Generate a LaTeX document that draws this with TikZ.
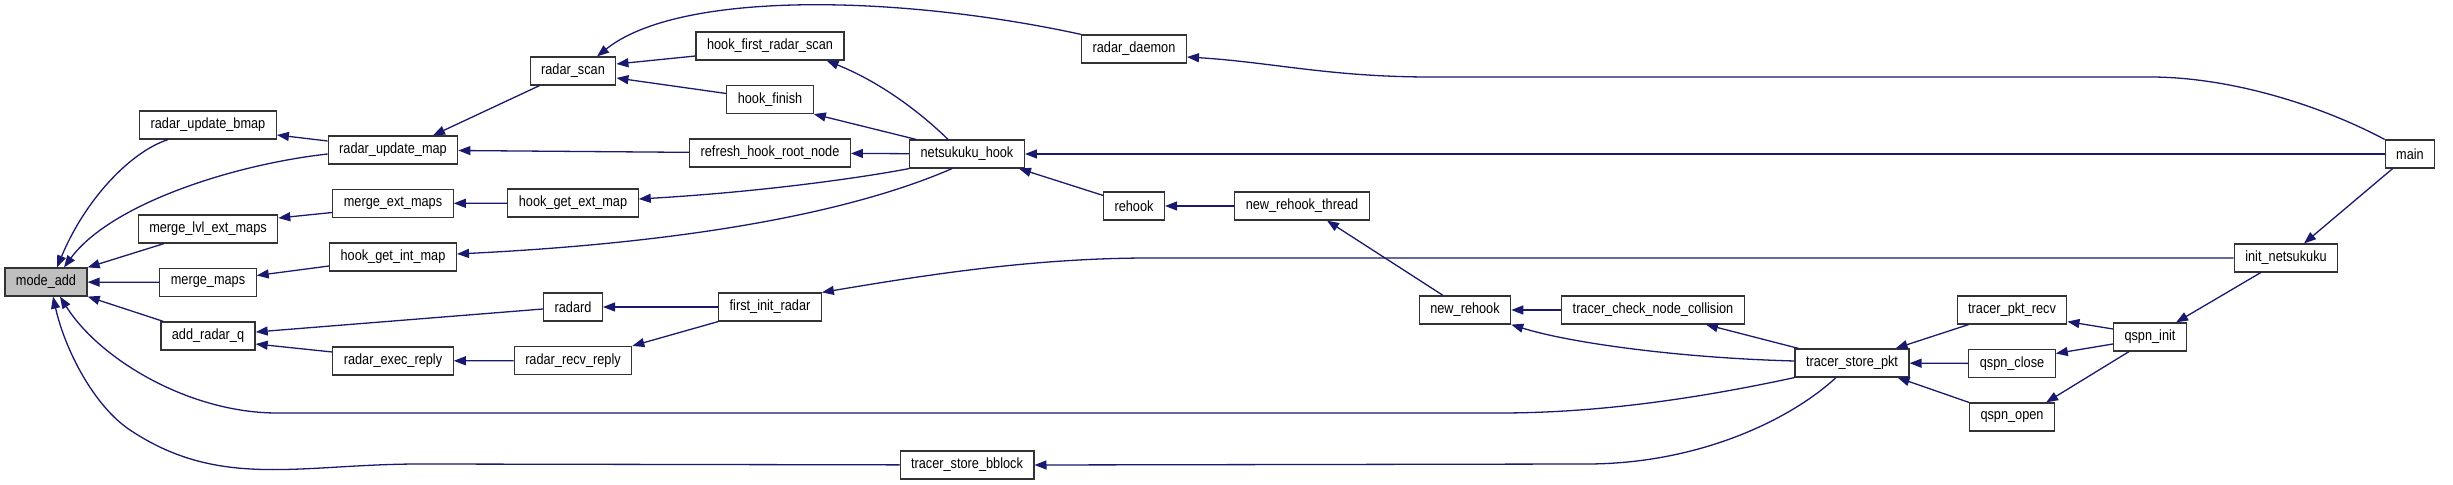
\documentclass[tikz,border=0pt]{standalone}
\usepackage{fontspec}
\setmainfont{Liberation Sans}[FakeStretch=0.86]
\usetikzlibrary{arrows.meta}
\definecolor{edgeblue}{HTML}{191970}
\tikzstyle{func} = [
    rectangle,
    minimum height=14pt,
    inner xsep=5.5pt,
    inner ysep=0pt,
    draw=black!80,
    line width=0.6pt,
    fill=white,
    font=\fontsize{7.4pt}{8pt}\selectfont
]
\tikzstyle{focus} = [
    func,
    fill=black!25
]
\tikzstyle{arrow} = [line width=0.65pt,draw=edgeblue,-{Triangle[length=6pt,width=4.5pt]}]

\begin{document}
\begin{tikzpicture}[x=0.5pt, y=-0.5pt, node distance=26.75pt]

\useasboundingbox (0,0) rectangle (2453,485);

\node (mode_add) [focus] at (46,282) {mode\_add};

\node (radar_update_bmap) [func] at (208,125) {radar\_update\_bmap};
\node (merge_lvl_ext_maps) [func] at (208,229) {merge\_lvl\_ext\_maps};
\node (merge_maps) [func, below of=merge_lvl_ext_maps] {merge\_maps};
\node (add_radar_q) [func, below of=merge_maps] {add\_radar\_q};

\node (radar_update_map) [func] at (393,150) {radar\_update\_map};
\node (merge_ext_maps) [func, below of=radar_update_map] {merge\_ext\_maps};
\node (hook_get_int_map) [func, below of=merge_ext_maps] {hook\_get\_int\_map};
\node (radar_exec_reply) [func] at (393,361) {radar\_exec\_reply};

\node (radar_scan) [func] at (573,71) {radar\_scan};
\node (hook_get_ext_map) [func] at (573,203) {hook\_get\_ext\_map};
\node (radard) [func] at (573,307) {radard};
\node (radar_recv_reply) [func, below of=radard] {radar\_recv\_reply};

\node (hook_first_radar_scan) [func] at (770,46) {hook\_first\_radar\_scan};
\node (hook_finish) [func, below of=hook_first_radar_scan] {hook\_finish};
\node (refresh_hook_root_node) [func, below of=hook_finish] {refresh\_hook\_root\_node};
\node (first_init_radar) [func] at (770,307) {first\_init\_radar};

\node (netsukuku_hook) [func] at (967,154) {netsukuku\_hook};
\node (tracer_store_bblock) [func] at (967,465) {tracer\_store\_bblock};

\node (radar_daemon) [func] at (1134,49) {radar\_daemon};
\node (rehook) [func] at (1134,206) {rehook};
\node (new_rehook_thread) [func] at (1302,206) {new\_rehook\_thread};
\node (new_rehook) [func] at (1465,310) {new\_rehook};
\node (tracer_check_node_collision) [func] at (1653,310) {tracer\_check\_node\_collision};
\node (tracer_store_pkt) [func] at (1852,363) {tracer\_store\_pkt};

\node (tracer_pkt_recv) [func] at (2012,310) {tracer\_pkt\_recv};
\node (qspn_close) [func, below of=tracer_pkt_recv] {qspn\_close};
\node (qspn_open) [func, below of=qspn_close] {qspn\_open};
\node (qspn_init) [func] at (2150,337) {qspn\_init};
\node (init_netsukuku) [func] at (2286,258) {init\_netsukuku};
\node (main) [func] at (2410,154) {main};

\draw [arrow] ([xshift=-20pt]radar_update_bmap.south) .. controls (130,152) and (85,200) .. ([xshift=5.5pt]mode_add.north);
\draw [arrow] ([yshift=-2pt]radar_update_map.west) .. controls (230,165) and (110,205) .. ([xshift=9pt]mode_add.north);
\draw [arrow] ([xshift=-22pt]merge_lvl_ext_maps.south) -- (mode_add.north east);
\draw [arrow] (merge_maps) -- (mode_add);
\draw [arrow] ([xshift=1.5pt]add_radar_q.north west) -- (mode_add.south east);
\draw [arrow] (tracer_store_pkt.south west) .. controls (1700,398) and (1600,413) .. (1500,413) -- (277,413) .. controls (190,413) and (100,360) .. ([xshift=7pt]mode_add.south);
\draw [arrow] (tracer_store_bblock) -- (420,464) .. controls (300,464) and (220,490) .. (130,430) .. controls (94,406) and (65,350) .. ([xshift=3.5pt]mode_add.south);

\draw [arrow] ([yshift=4.5pt]radar_update_map.west) -- ([yshift=-5pt]radar_update_bmap.east);
\draw [arrow] ([xshift=5pt]radar_scan.south west) -- ([xshift=20pt]radar_update_map.north);
\draw [arrow] (refresh_hook_root_node) -- (radar_update_map);
\draw [arrow] ([yshift=-5pt]hook_first_radar_scan.west) -- ([yshift=3.5pt]radar_scan.east);
\draw [arrow] ([yshift=3pt]hook_finish.west) -- ([yshift=-3.5pt]radar_scan.east);
\draw [arrow] (radar_daemon.north west) .. controls (900,-5) and (680,-10) .. ([xshift=12pt]radar_scan.north);

\draw [arrow] ([xshift=-9.5pt]netsukuku_hook.north) .. controls (920,112) and (880,82) .. ([xshift=-9pt]hook_first_radar_scan.south east);
\draw [arrow] ([xshift=3.5pt]netsukuku_hook.north west) -- (hook_finish.south east);
\draw [arrow] (netsukuku_hook) -- (refresh_hook_root_node);
\draw [arrow] (netsukuku_hook.south west) .. controls (860,178) and (760,192) .. ([yshift=2pt]hook_get_ext_map.east);
\draw [arrow] ([xshift=-7.5pt]netsukuku_hook.south) .. controls (880,200) and (740,240) .. ([yshift=1.5pt]hook_get_int_map.east);

\draw [arrow] (hook_get_ext_map) -- (merge_ext_maps);
\draw [arrow] ([yshift=-4.5pt]merge_ext_maps.west) -- ([yshift=5.5pt]merge_lvl_ext_maps.east);
\draw [arrow] ([yshift=-4.5pt]hook_get_int_map.west) -- ([yshift=3.5pt]merge_maps.east);
\draw [arrow] ([yshift=-1pt]radard.west) -- ([yshift=2pt]add_radar_q.east);
\draw [arrow] ([yshift=4.5pt]radar_exec_reply.west) -- ([yshift=-4pt]add_radar_q.east);
\draw [arrow] (radar_recv_reply) -- (radar_exec_reply);
\draw [arrow] (first_init_radar) -- (radard);
\draw [arrow] (first_init_radar.south west) -- (radar_recv_reply.north east);
\draw [arrow] (init_netsukuku) -- (1150,258) .. controls (1030,258) and (920,276) .. (first_init_radar.north east);

\draw [arrow] (main.north west) .. controls (2320,105) and (2230,77) .. (2150,77) -- (1430,77) .. controls (1330,77) and (1270,62) .. ([yshift=-4pt]radar_daemon.east);
\draw [arrow] (main) -- (netsukuku_hook);
\draw [arrow] ([xshift=4pt]main.south west) -- ([xshift=9pt]init_netsukuku.north);
\draw [arrow] ([yshift=-2pt]rehook.north west) -- ([xshift=-3pt]netsukuku_hook.south east);
\draw [arrow] (new_rehook_thread) -- (rehook);
\draw [arrow] ([xshift=-11pt]new_rehook.north) -- ([xshift=12.5pt]new_rehook_thread.south);
\draw [arrow] (tracer_check_node_collision) -- (new_rehook);
\draw [arrow] ([yshift=1pt]tracer_store_pkt.west) .. controls (1680,358) and (1570,343) .. (new_rehook.south east);
\draw [arrow] ([xshift=2pt]tracer_store_pkt.north west) -- ([xshift=-19.5pt]tracer_check_node_collision.south east);
\draw [arrow] ([xshift=-8pt]tracer_store_pkt.south) .. controls (1790,420) and (1700,463) .. (1590,464) -- (tracer_store_bblock.east);

\draw [arrow] ([xshift=6pt]tracer_pkt_recv.south west) -- ([xshift=-7pt]tracer_store_pkt.north east);
\draw [arrow] (qspn_close) -- (tracer_store_pkt);
\draw [arrow] (qspn_open.north west) -- ([xshift=-6pt]tracer_store_pkt.south east);
\draw [arrow] ([yshift=4pt]qspn_init.west) -- ([yshift=1.5pt]tracer_pkt_recv.south east);
\draw [arrow] ([yshift=-3.5pt]qspn_init.west) -- ([yshift=5pt]qspn_close.east);
\draw [arrow] ([xshift=-10.5pt]qspn_init.south) -- ([xshift=-4.5pt]qspn_open.north east);
\draw [arrow] ([xshift=13.5pt]init_netsukuku.south west) -- ([xshift=-5.5pt]qspn_init.north east);

\end{tikzpicture}
\end{document}
